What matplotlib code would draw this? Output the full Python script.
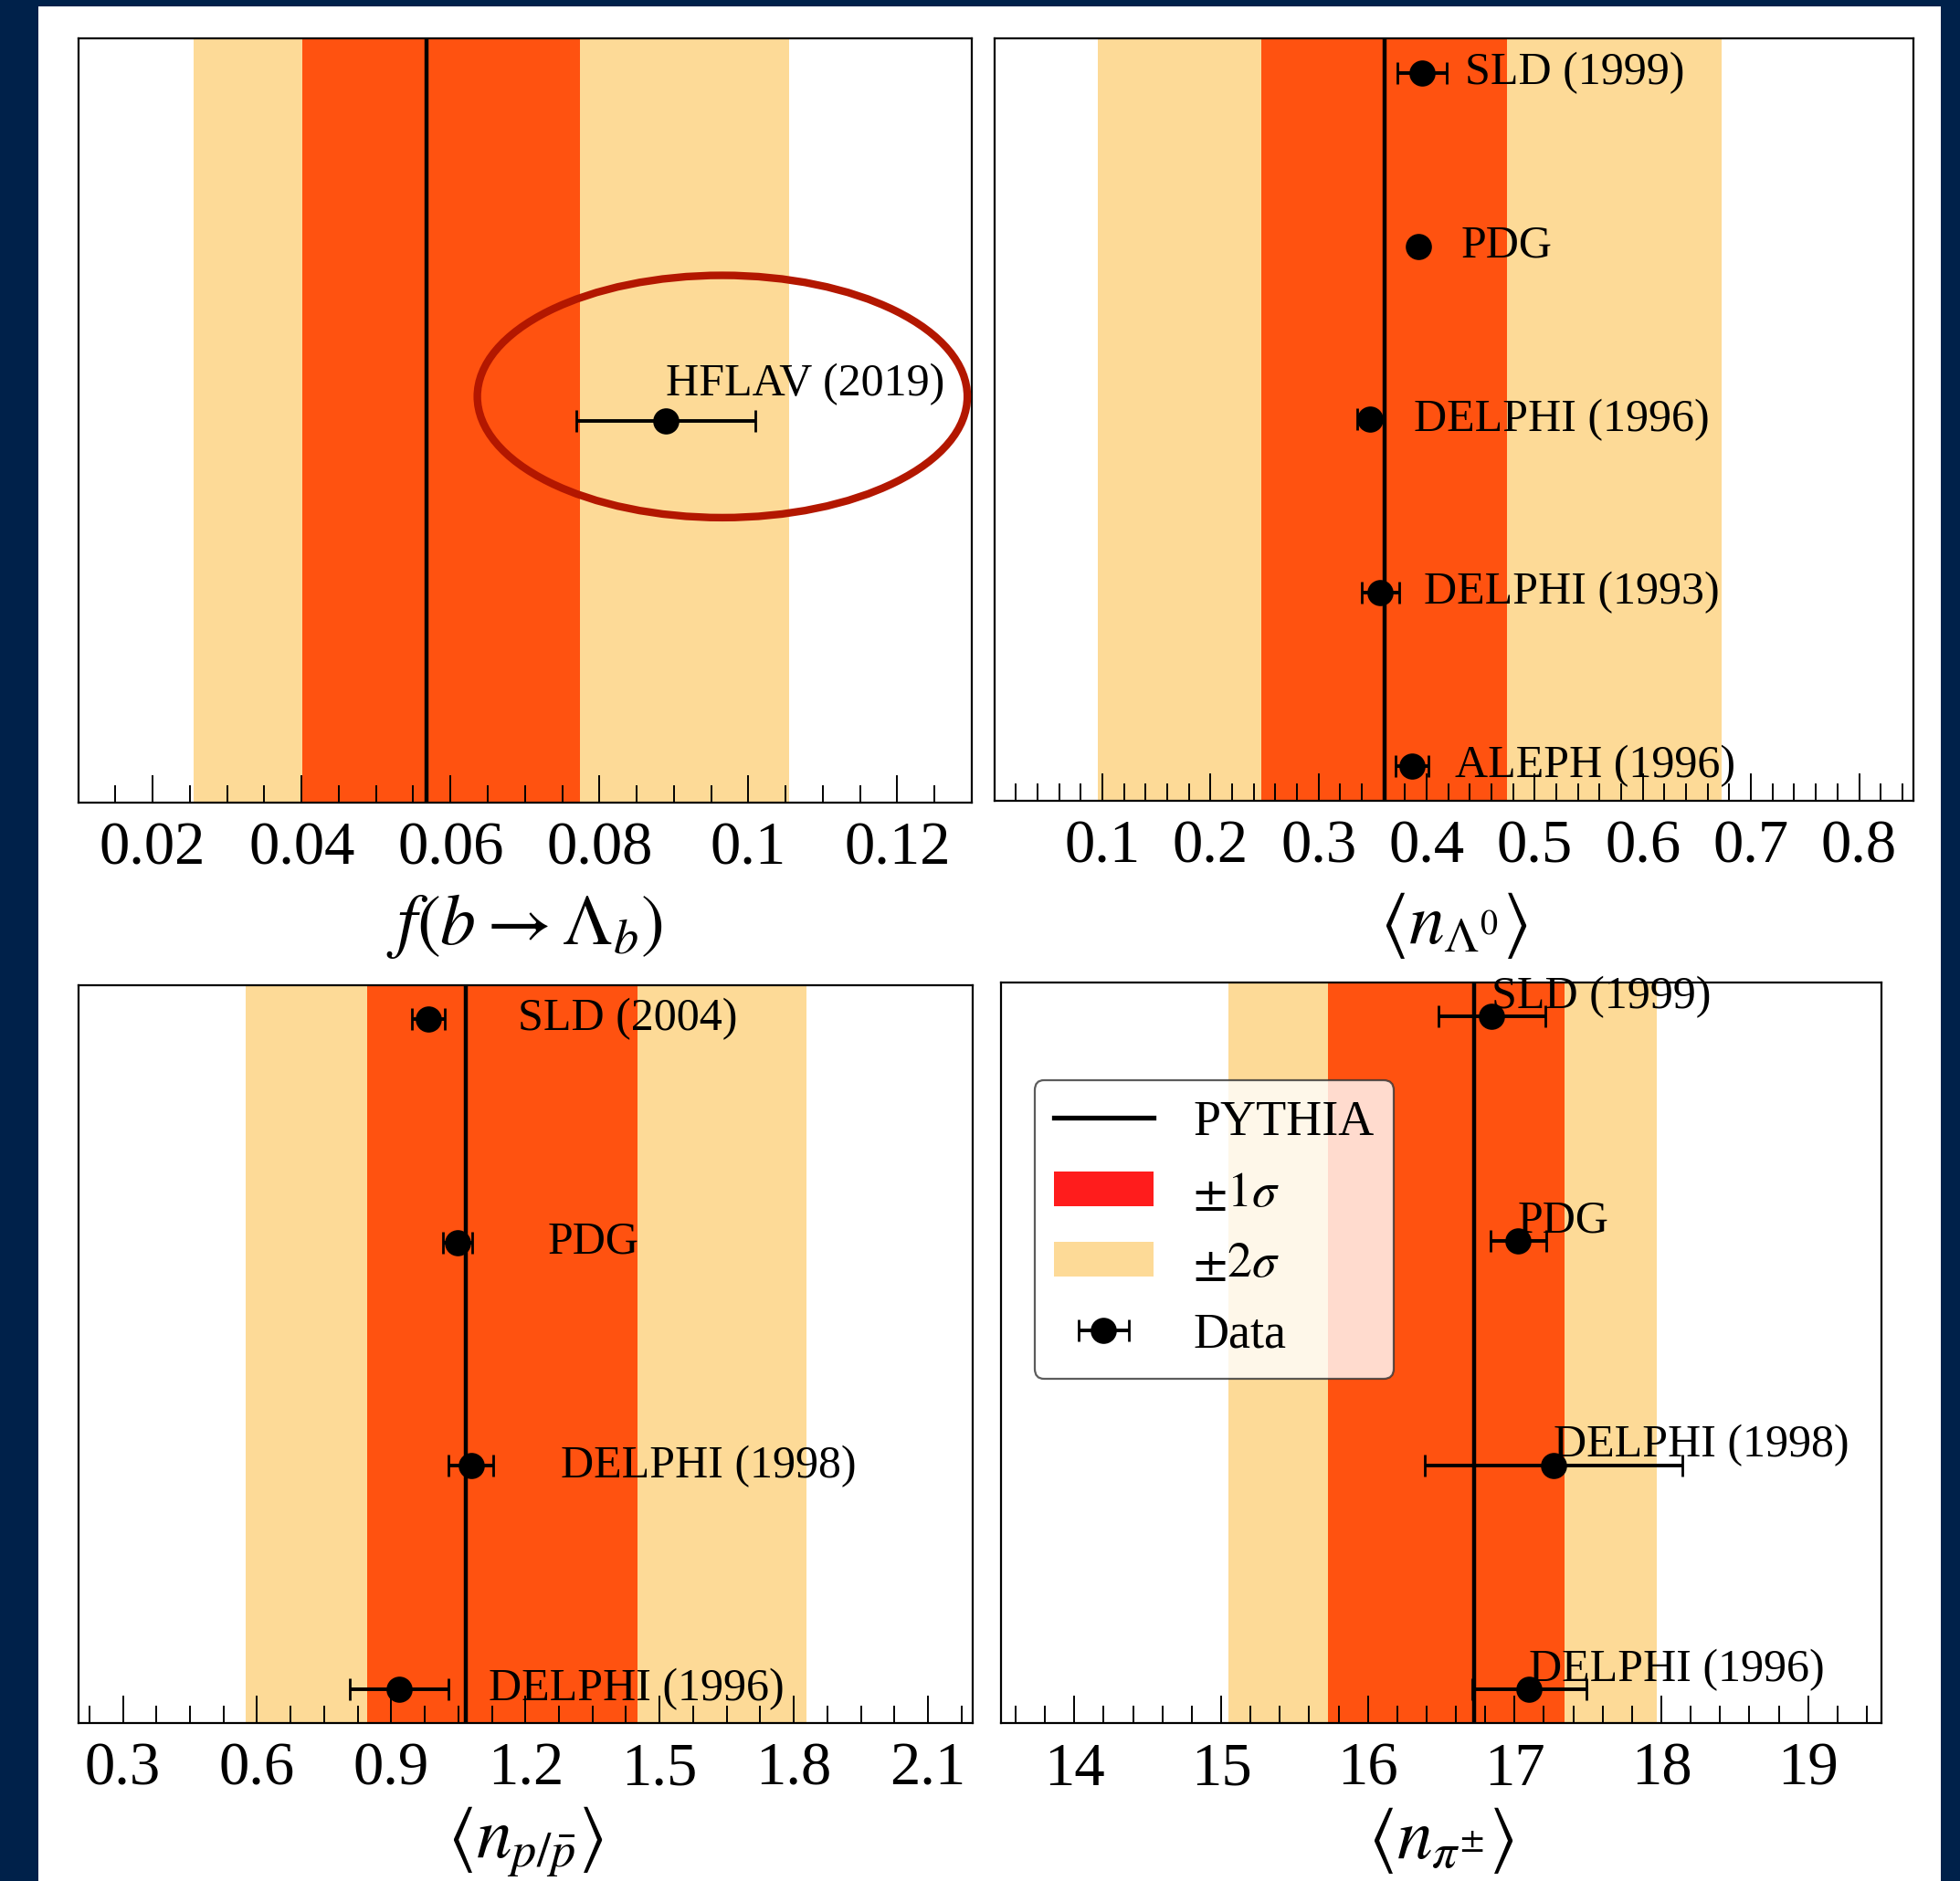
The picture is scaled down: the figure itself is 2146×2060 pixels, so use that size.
import numpy as np
import matplotlib
matplotlib.use("Agg")
import matplotlib.pyplot as plt
from matplotlib.patches import Ellipse, Patch, Rectangle
from matplotlib.lines import Line2D
from matplotlib.ticker import MultipleLocator, FixedLocator, FuncFormatter

plt.rcParams['font.family'] = 'serif'
plt.rcParams['font.serif'] = ['Liberation Serif', 'DejaVu Serif']
plt.rcParams['mathtext.fontset'] = 'stix'

# colores
c_1s = '#FF5210'
c_2s = '#FDDA97'
c_1s_leg = '#FF1C1C'
navy = '#00214A'

# f(b -> Lambda_b)
lb_names = ['HFLAV (2019)']
lb_val = [0.0889]
lb_err = [0.012]
lb_py = 0.0568
lb_1s = (0.0401, 0.0774)
lb_2s = (0.0255, 0.1055)
lb_ticks = [0.02, 0.04, 0.06, 0.08, 0.1, 0.12]

# <n_Lambda0>
lam_names = ['SLD (1999)', 'PDG', 'DELPHI (1996)', 'DELPHI (1993)', 'ALEPH (1996)']
lam_val = [0.3956, 0.392, 0.348, 0.3573, 0.3863]
lam_err = [0.0226, 0.003, 0.012, 0.0176, 0.0154]
lam_py = 0.3613
lam_1s = (0.2471, 0.4745)
lam_2s = (0.0963, 0.6728)
lam_ticks = [0.1, 0.2, 0.3, 0.4, 0.5, 0.6, 0.7, 0.8]

# <n_p/pbar>
p_names = ['SLD (2004)', 'PDG', 'DELPHI (1998)', 'DELPHI (1996)']
p_val = [0.9826, 1.0486, 1.0786, 0.918]
p_err = [0.0366, 0.032, 0.05, 0.11]
p_py = 1.067
p_1s = (0.8465, 1.450)
p_2s = (0.574, 1.828)
p_ticks = [0.3, 0.6, 0.9, 1.2, 1.5, 1.8, 2.1]

# <n_pi+->
pi_names = ['SLD (1999)', 'PDG', 'DELPHI (1998)', 'DELPHI (1996)']
pi_val = [16.845, 17.023, 17.265, 17.10]
pi_err = [0.366, 0.19, 0.88, 0.39]
pi_py = 16.727
pi_1s = (15.731, 17.343)
pi_2s = (15.052, 17.97)
pi_ticks = [14, 15, 16, 17, 18, 19]

fig = plt.figure(figsize=(10.73, 10.30), dpi=200, facecolor=navy)
fig.add_artist(Rectangle((42 / 2146, 0), (2125 - 42) / 2146, 1 - 7 / 2060,
                         transform=fig.transFigure, facecolor='white',
                         edgecolor='none', zorder=-10))


def panel(rect, names, vals, errs, py, s1, s2, ticks, minor, xlim, ylim,
          xlabel, mode, off, lpad=6):
    ax = fig.add_axes(rect)
    ax.axvspan(*s2, color=c_2s, lw=0, zorder=0)
    ax.axvspan(*s1, color=c_1s, lw=0, zorder=0.5)
    ax.axvline(py, color='k', lw=1.6, zorder=2)
    y = np.arange(len(vals))[::-1]
    eb = ax.errorbar(vals, y, xerr=errs, fmt='o', color='k', ms=9.3,
                     elinewidth=1.4, capsize=4.2, capthick=1.0, zorder=3)
    for v, yy, n in zip(vals, y, names):
        if mode == 'right':
            ax.text(v + off, yy, n, ha='left', va='center', fontsize=18)
        else:
            ax.annotate(n, (v, yy), xytext=(0, off), textcoords='offset points',
                        ha='left', va='baseline', fontsize=18)
    ax.set_xlim(*xlim)
    ax.set_ylim(*ylim)
    ax.xaxis.set_major_locator(FixedLocator(ticks))
    ax.xaxis.set_minor_locator(MultipleLocator(minor))
    ax.xaxis.set_major_formatter(FuncFormatter(lambda v, p: f'{v:g}'))
    ax.set_yticks([])
    ax.tick_params(axis='x', which='both', direction='in', top=False,
                   labelsize=24, pad=7.5, width=0.7)
    ax.tick_params(axis='x', which='major', length=10.8)
    ax.tick_params(axis='x', which='minor', length=6.7)
    for s in ax.spines.values():
        s.set_linewidth(0.8)
    ax.set_xlabel(xlabel, fontsize=28, labelpad=lpad)
    return ax, eb


W, H = 2146, 2060


def rect(l, r, t, b):
    return [l / W, (H - b) / H, (r - l) / W, (b - t) / H]


ax1, _ = panel(rect(85.6, 1064, 42, 879), lb_names, lb_val, lb_err, lb_py,
               lb_1s, lb_2s, lb_ticks, 0.005, (0.01, 0.13), (-0.5, 0.5),
               r'$f(b\rightarrow\Lambda_b)$', 'above', 9.7)
ax1.add_patch(Ellipse((0.0965, 0.0314), 0.0658, 0.317, fill=False,
                      edgecolor='#B31700', lw=3.0, zorder=4, clip_on=False))

panel(rect(1088.5, 2094.7, 42, 877), lam_names, lam_val, lam_err, lam_py,
      lam_1s, lam_2s, lam_ticks, 0.02, (0.0, 0.85), (-0.2, 4.2),
      r'$\langle n_{\Lambda^0}\rangle$', 'right', 0.04)

panel(rect(85.6, 1065, 1079, 1887), p_names, p_val, p_err, p_py,
      p_1s, p_2s, p_ticks, 0.075, (0.2, 2.2), (-0.15, 3.15),
      r'$\langle n_{p/\bar{p}}\rangle$', 'right', 0.2, lpad=3)

ax4, eb4 = panel(rect(1096, 2060, 1076.4, 1887), pi_names, pi_val, pi_err,
                 pi_py, pi_1s, pi_2s, pi_ticks, 0.2, (13.5, 19.5), (-0.15, 3.15),
                 r'$\langle n_{\pi^{\pm}}\rangle$', 'above', 3.4, lpad=3)

handles = [Line2D([0], [0], color='k', lw=1.9),
           Patch(facecolor=c_1s_leg),
           Patch(facecolor=c_2s),
           eb4]
labels = ['PYTHIA', r'$\pm1\sigma$', r'$\pm2\sigma$', 'Data']
leg = ax4.legend(handles, labels, loc='upper left', bbox_to_anchor=(0.038, 0.8685),
                 borderaxespad=0, fontsize=19.5, labelspacing=0.5,
                 framealpha=0.8, edgecolor='0.2', fancybox=True)
leg.get_frame().set_linewidth(0.8)
leg.set_zorder(10)

fig.savefig('out.png', dpi=200, facecolor=navy)
